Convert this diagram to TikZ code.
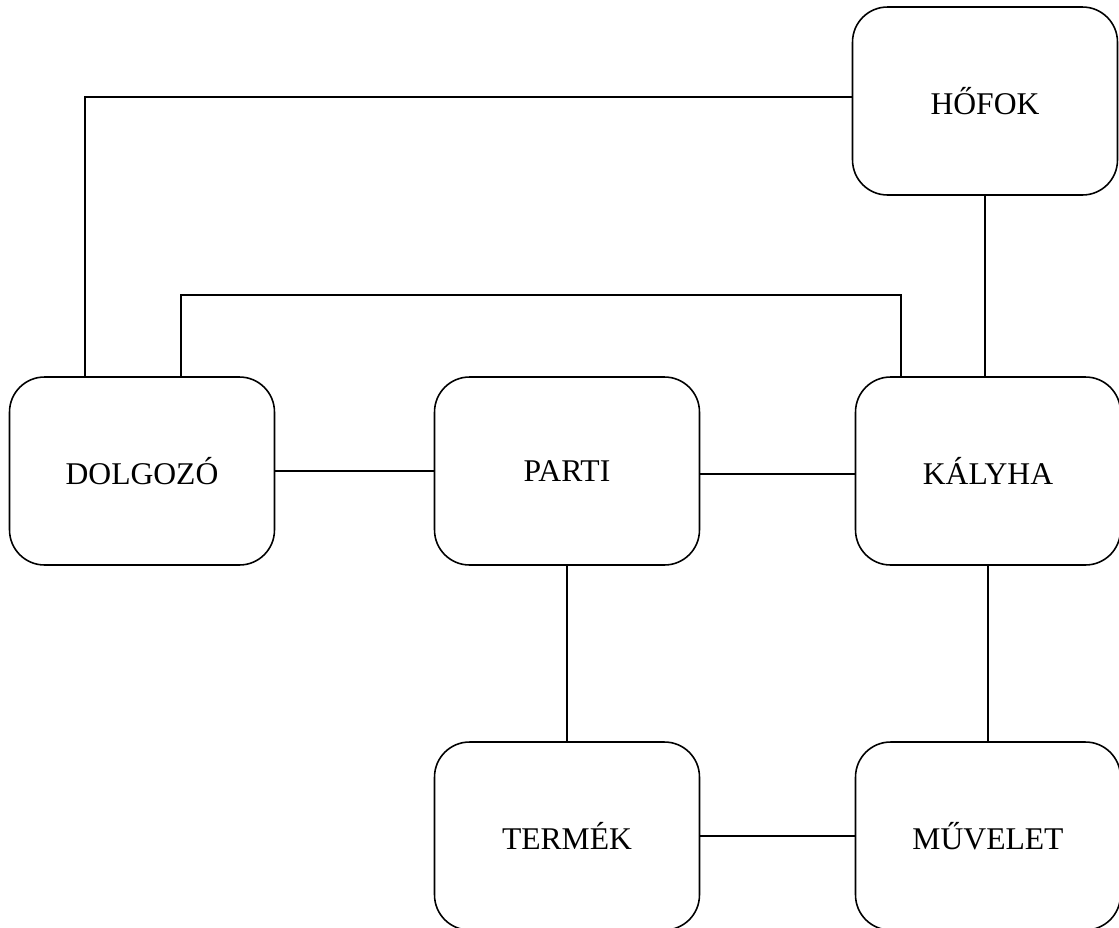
\documentclass[tikz,border=0pt]{standalone}
\usepackage{fontspec}
\setmainfont{Liberation Serif}
\usepackage{tikz}

\begin{document}
\begin{tikzpicture}[x=0.02cm, y=-0.02cm, line width=0.9pt,
		entity/.style={draw, rounded corners=0.7cm, minimum width=5.3cm, minimum height=3.76cm, font=\fontsize{18}{22}\selectfont}]
				\useasboundingbox (0,0) rectangle (1119,927);
				
				\node[entity] (hofok) at (985,101) {HŐFOK};
				\node[entity] (dolgozo) at (142,471) {DOLGOZÓ};
				\node[entity] (parti) at (567,471) {PARTI};
				\node[entity] (kalyha) at (988,471) {KÁLYHA};
				\node[entity] (termek) at (567,836) {TERMÉK};
				\node[entity] (muvelet) at (988,836) {MŰVELET};
				
				\draw ([xshift=-1.14cm]dolgozo.north) |- ([yshift=0.08cm]hofok.west);
				\draw ([xshift=0.78cm]dolgozo.north) -- ++(0,1.62cm) -| ([xshift=-1.74cm]kalyha.north);
				\draw (hofok.south) -- (hofok.south |- kalyha.north);
				\draw (dolgozo.east) -- (parti.west);
				\draw ([yshift=-0.06cm]parti.east) -- ([yshift=-0.06cm]kalyha.west);
				\draw (parti.south) -- (termek.north);
				\draw (kalyha.south) -- (muvelet.north);
				\draw (termek.east) -- (muvelet.west);
			\end{tikzpicture}
\end{document}
